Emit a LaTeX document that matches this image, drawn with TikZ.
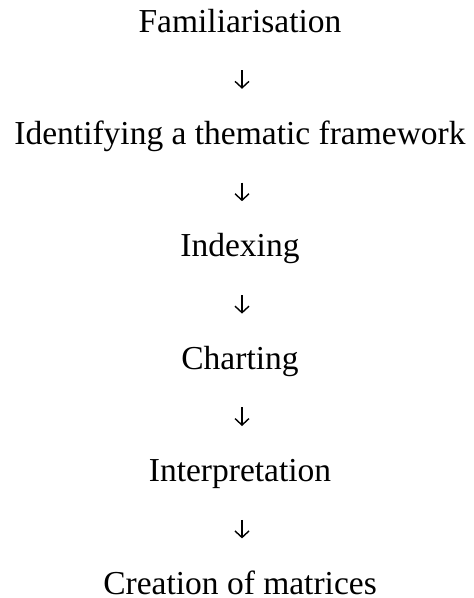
\documentclass[tikz,border=0pt]{standalone}
\usepackage{fontspec}
\setmainfont{Liberation Serif}
\usetikzlibrary{arrows.meta}
\begin{document}
\begin{tikzpicture}[x=1pt,y=-1pt,
  stage/.style={anchor=base, inner sep=0pt, text height=22pt, text depth=0pt,
    font=\fontsize{33.5}{40}\selectfont},
  flow/.style={line width=1.4pt, -{Straight Barb[length=6.5pt,width=14pt,line width=1.4pt]},
    shorten <=38pt, shorten >=33.4pt}]
  \useasboundingbox (0,0) rectangle (474,598);
  \node[stage] (s1) at (240,32)    {Familiarisation};
  \node[stage] (s2) at (240,144.4) {Identifying a thematic framework};
  \node[stage] (s3) at (240,256.8) {Indexing};
  \node[stage] (s4) at (240,369.2) {Charting};
  \node[stage] (s5) at (240,481.6) {Interpretation};
  \node[stage] (s6) at (240,594)   {Creation of matrices};
  \foreach \a/\b in {s1/s2, s2/s3, s3/s4, s4/s5, s5/s6}
    \draw[flow] (\a.south -| 242,0) -- (\b.north -| 242,0);
\end{tikzpicture}
\end{document}
